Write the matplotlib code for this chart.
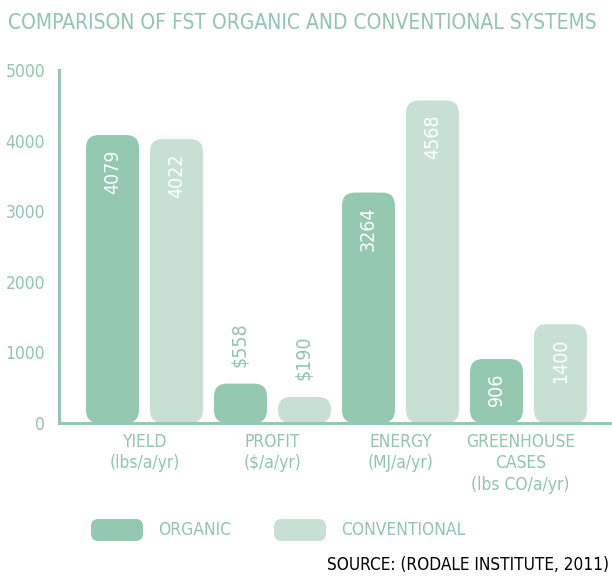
import matplotlib.pyplot as plt
from matplotlib.patches import FancyBboxPatch
from matplotlib.transforms import ScaledTranslation

# data
categories = ['YIELD\n(lbs/a/yr)', 'PROFIT\n($/a/yr)', 'ENERGY\n(MJ/a/yr)',
              'GREENHOUSE\nCASES\n(lbs CO/a/yr)']
organic = [4079, 558, 3264, 906]
conventional = [4022, 190, 4568, 1400]
organic_labels = ['4079', '$558', '3264', '906']
conventional_labels = ['4022', '$190', '4568', '1400']

c_org = '#95C8B0'
c_conv = '#C8E0D4'
c_text = '#8FC6AC'

plt.rcParams['font.family'] = ['DejaVu Sans']
plt.rcParams['font.stretch'] = 'condensed'

fig = plt.figure(figsize=(6.12, 5.76), dpi=100)
ax = fig.add_axes([59 / 612, 1 - 423 / 576, 553 / 612, 353 / 576])

ax.set_xlim(-0.836, 7.805)
ax.set_ylim(0, 5000)

# px -> data conversion for rounded corners
x_per_px = 1 / 64
y_per_px = 5000 / 352
aspect = y_per_px / x_per_px
r = 13 * x_per_px
w = 53 / 64


def rbar(x, h, color):
    hh = max(h, 2 * r * aspect)
    p = FancyBboxPatch((x - w / 2, 0), w, hh,
                       boxstyle=f'round,pad=0,rounding_size={r}',
                       mutation_aspect=aspect, fc=color, ec='none', zorder=2)
    ax.add_patch(p)
    return hh


for i in range(len(categories)):
    for j, (vals, labs, col) in enumerate([(organic, organic_labels, c_org),
                                           (conventional, conventional_labels, c_conv)]):
        x = 2 * i + j
        top = rbar(x, vals[i], col)
        if vals[i] < 800:
            ax.text(x, top + 17 * y_per_px, labs[i], rotation=90, ha='center',
                    va='bottom', fontsize=14, color=c_text)
        else:
            ax.text(x, top - 14 * y_per_px, labs[i], rotation=90, ha='center',
                    va='top', fontsize=14, color='white')

ax.set_xticks([2 * i + 0.5 for i in range(len(categories))])
ax.set_xticklabels(categories, fontsize=12.5, color=c_text, va='top',
                   linespacing=1.25)
ax.set_yticks([0, 1000, 2000, 3000, 4000, 5000])
ax.tick_params(axis='both', length=0, labelsize=12.5, labelcolor=c_text)
ax.tick_params(axis='y', pad=10)
ax.tick_params(axis='x', pad=7)
# the last category label sits a bit left of its group in the original
lab = ax.get_xticklabels()[-1]
lab.set_transform(lab.get_transform() + ScaledTranslation(-8 / 100, 0, fig.dpi_scale_trans))

for s in ['top', 'right']:
    ax.spines[s].set_visible(False)
for s in ['left', 'bottom']:
    ax.spines[s].set_color(c_org)
    ax.spines[s].set_linewidth(2.2)
    ax.spines[s].set_zorder(3)

fig.text(8 / 612, 1 - 23 / 576, 'COMPARISON OF FST ORGANIC AND CONVENTIONAL SYSTEMS',
         fontsize=15, color=c_text, va='center', ha='left')

# legend
for x0, col, lab in [(91, c_org, 'ORGANIC'), (274, c_conv, 'CONVENTIONAL')]:
    fig.patches.append(FancyBboxPatch((x0 / 612, 1 - 541 / 576), 52 / 612, 22 / 576,
                                      boxstyle='round,pad=0,rounding_size=0.012',
                                      mutation_aspect=612 / 576,
                                      transform=fig.transFigure, fc=col, ec='none'))
    fig.text((x0 + 67) / 612, 1 - 530 / 576, lab, fontsize=12.5, color=c_text,
             va='center', ha='left')

fig.text(609 / 612, 1 - 565 / 576, 'SOURCE: (RODALE INSTITUTE, 2011)',
         fontsize=12.3, color='black', va='center', ha='right')

fig.savefig('out.png', dpi=100)
